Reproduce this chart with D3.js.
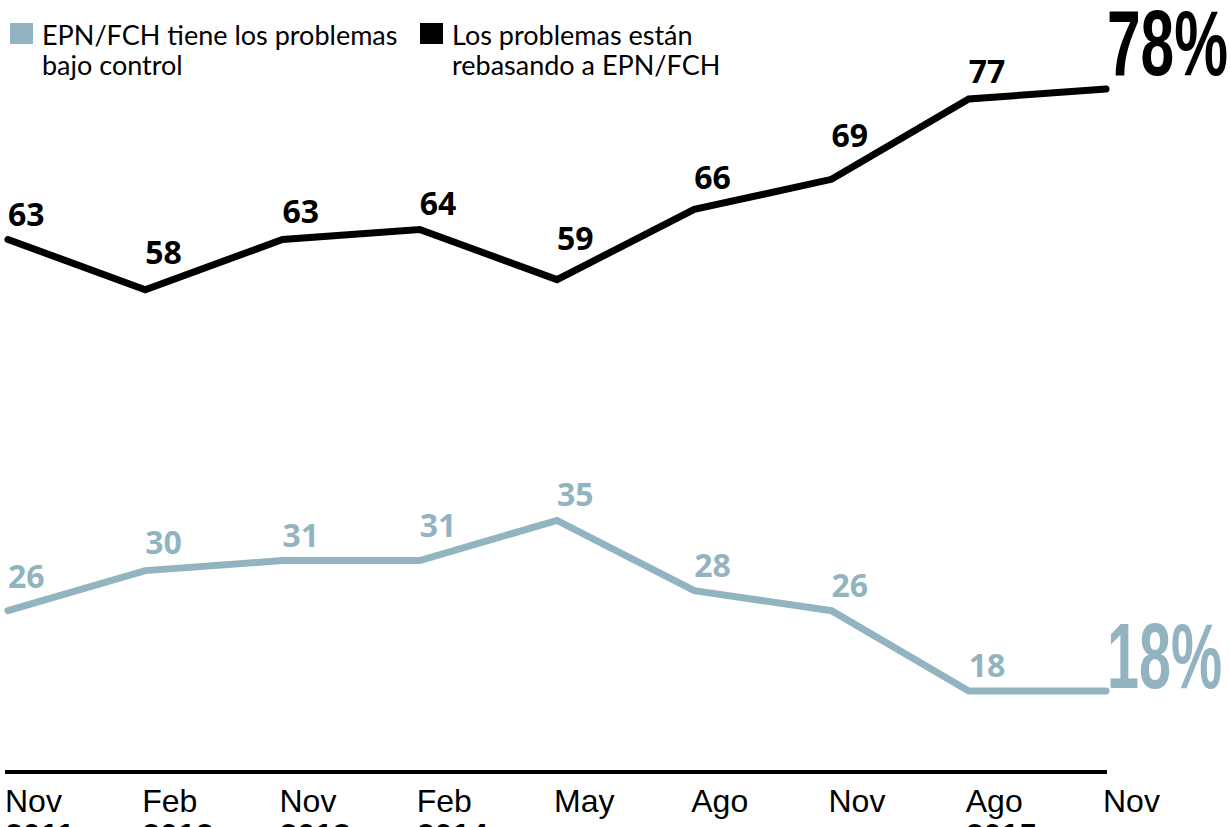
<!DOCTYPE html>
<html>
<head>
<meta charset="utf-8">
<script src="https://cdn.jsdelivr.net/npm/d3@7"></script>
<style>
  body { margin: 0; background: #fff; }
  svg { display: block; }
</style>
</head>
<body>
<div id="chart"></div>
<script>
// Encuesta: percepción sobre los problemas del país
const months = ['Nov', 'Feb', 'Nov', 'Feb', 'May', 'Ago', 'Nov', 'Ago', 'Nov'];
const years = ['2011', '2012', '2013', '2014', '', '', '', '2015', ''];
const rebasando = [63, 58, 63, 64, 59, 66, 69, 77, 78];
const bajoControl = [26, 30, 31, 31, 35, 28, 26, 18, 18];
const legendLabels = [
    ['EPN/FCH tiene los problemas', 'bajo control'],
    ['Los problemas están', 'rebasando a EPN/FCH']
];

const width = 1230;
const height = 827;
const blue = '#92b4c1';
const black = '#000';

const svg = d3.select('#chart')
    .append('svg')
    .attr('width', width)
    .attr('height', height);

const x = d3.scalePoint()
    .domain(d3.range(months.length))
    .range([8, 1106]);

const y = d3.scaleLinear()
    .domain([18, 78])
    .range([691, 89]);

// Axis baseline
svg.append('line')
    .attr('x1', 5).attr('x2', 1107)
    .attr('y1', 772).attr('y2', 772)
    .attr('stroke', black)
    .attr('stroke-width', 4);

// Month / year labels
svg.append('g')
    .selectAll('text')
    .data(months)
    .join('text')
    .attr('x', (d, i) => x(i) - 3)
    .attr('y', 812)
    .attr('font-family', 'Liberation Sans, Arial, sans-serif')
    .attr('font-size', 32)
    .attr('fill', black)
    .text(d => d);

svg.append('g')
    .selectAll('text')
    .data(years)
    .join('text')
    .attr('x', (d, i) => x(i) - 3)
    .attr('y', 846)
    .attr('font-family', 'Liberation Sans, Arial, sans-serif')
    .attr('font-size', 32)
    .attr('font-weight', 'bold')
    .attr('fill', black)
    .text(d => d);

const line = d3.line()
    .x((d, i) => x(i))
    .y(d => y(d));

function drawSeries(values, color) {
    svg.append('path')
        .datum(values)
        .attr('d', line)
        .attr('fill', 'none')
        .attr('stroke', color)
        .attr('stroke-width', 7)
        .attr('stroke-linecap', 'round')
        .attr('stroke-linejoin', 'miter');

    // Labels sit above the point, pushed up when the line climbs right after it
    svg.append('g')
        .selectAll('text')
        .data(values.slice(0, -1))
        .join('text')
        .attr('x', (d, i) => x(i))
        .attr('y', (d, i) => {
            const rise = Math.max(0, values[i + 1] - d);
            return y(d) - 14 - rise * 2.3;
        })
        .attr('font-family', 'Open Sans, sans-serif')
        .attr('font-weight', 'bold')
        .attr('font-size', 32)
        .attr('fill', color)
        .text(d => d);
}

drawSeries(bajoControl, blue);
drawSeries(rebasando, black);

// Final big values
function bigValue(v, color, yBase, len) {
    svg.append('text')
        .attr('x', 1107)
        .attr('y', yBase)
        .attr('font-family', 'Liberation Sans Narrow, Arial Narrow, sans-serif')
        .attr('font-weight', 'bold')
        .attr('font-size', 92)
        .attr('textLength', len)
        .attr('lengthAdjust', 'spacingAndGlyphs')
        .attr('fill', color)
        .text(v + '%');
}
bigValue(rebasando[rebasando.length - 1], black, 75, 121);
bigValue(bajoControl[bajoControl.length - 1], blue, 688, 115);

// Legend
const legend = svg.append('g');
const legendX = [10, 420];
const legendColors = [blue, black];
legendLabels.forEach((lines, i) => {
    legend.append('rect')
        .attr('x', legendX[i])
        .attr('y', 23)
        .attr('width', 23)
        .attr('height', 21)
        .attr('fill', legendColors[i]);
    legend.append('text')
        .attr('x', legendX[i] + 32)
        .attr('y', 45)
        .attr('font-family', 'Lato, sans-serif')
        .attr('font-size', 27)
        .attr('fill', black)
        .selectAll('tspan')
        .data(lines)
        .join('tspan')
        .attr('x', legendX[i] + 32)
        .attr('dy', (d, j) => j === 0 ? 0 : 30)
        .text(d => d);
});
</script>
</body>
</html>
